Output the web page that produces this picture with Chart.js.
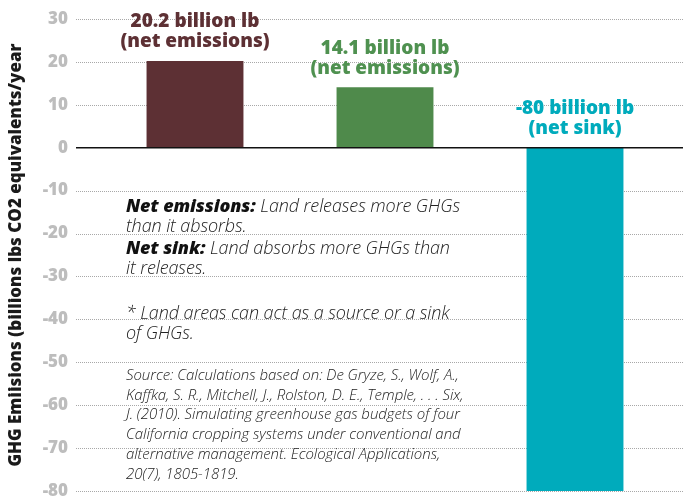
<!DOCTYPE html>
<html>
<head>
<meta charset="utf-8">
<script src="https://cdn.jsdelivr.net/npm/chart.js@4"></script>
<style>
  html, body { margin: 0; padding: 0; background: #fff; overflow: hidden; }
  #wrap { position: relative; width: 683px; height: 496px; }
  canvas { position: absolute; left: 0; top: 0; }
  .note { position: absolute; left: 126px; font-family: "Open Sans", sans-serif; font-style: italic; font-weight: 300; color: #222; white-space: nowrap; }
  .note b { font-weight: 800; color: #111; }
  .big { font-size: 18px; line-height: 20px; letter-spacing: -0.1px; }
  .src { font-size: 15px; line-height: 19.7px; letter-spacing: -0.05px; }
</style>
</head>
<body>
<div id="wrap">
  <canvas id="c" width="683" height="496"></canvas>
  <div class="note big" style="top:195px"><b>Net emissions:</b> Land releases more GHGs<br>than it absorbs.</div>
  <div class="note big" style="top:237px"><b>Net sink:</b> Land absorbs more GHGs than<br>it releases.</div>
  <div class="note big" style="top:302px">* Land areas can act as a source or a sink<br>of GHGs.</div>
  <div class="note src" style="top:365px">Source: Calculations based on: De Gryze, S., Wolf, A.,<br>Kaffka, S. R., Mitchell, J., Rolston, D. E., Temple, . . . Six,<br>J. (2010). Simulating greenhouse gas budgets of four<br>California cropping systems under conventional and<br>alternative management. Ecological Applications,<br>20(7), 1805-1819.</div>
</div>
<script>
const categories = ['Conventional', 'Alternative', 'Sink'];
const values = [20.2, 14.1, -80];
const labelLine1 = ['20.2 billion lb', '14.1 billion lb', '-80 billion lb'];
const labelLine2 = ['(net emissions)', '(net emissions)', '(net sink)'];
const barColors = ['#5d3034', '#4f8a4b', '#00abbc'];
const labelColors = ['#5d3034', '#4f9150', '#00abbc'];
const yTitle = 'GHG Emiisions (billions lbs CO2 equivalents/year';

const gridPlugin = {
  id: 'gridPlugin',
  beforeDatasetsDraw(chart) {
    const ctx = chart.ctx, y = chart.scales.y;
    ctx.save();
    y.ticks.forEach(t => {
      if (t.value === 0) return;
      const py = Math.round(y.getPixelForValue(t.value)) + 0.5;
      ctx.beginPath();
      ctx.setLineDash([1, 1]);
      ctx.strokeStyle = '#a8a8a8';
      ctx.lineWidth = 1;
      ctx.moveTo(76, py);
      ctx.lineTo(chart.width, py);
      ctx.stroke();
    });
    ctx.restore();
  },
  afterDatasetsDraw(chart) {
    const ctx = chart.ctx, y = chart.scales.y;
    ctx.save();
    const p0 = y.getPixelForValue(0);
    ctx.setLineDash([]);
    ctx.strokeStyle = '#111';
    ctx.lineWidth = 1.6;
    ctx.beginPath();
    ctx.moveTo(76, p0);
    ctx.lineTo(chart.width, p0);
    ctx.stroke();
    const meta = chart.getDatasetMeta(0);
    ctx.textAlign = 'center';
    ctx.textBaseline = 'middle';
    ctx.font = '800 19px "Open Sans", sans-serif';
    meta.data.forEach((el, i) => {
      const top = Math.min(el.y, el.base);
      ctx.fillStyle = labelColors[i];
      ctx.fillText(labelLine1[i], el.x, top - 39);
      ctx.fillText(labelLine2[i], el.x, top - 19);
    });
    ctx.restore();
  }
};

new Chart(document.getElementById('c'), {
  type: 'bar',
  data: {
    labels: categories,
    datasets: [{ data: values, backgroundColor: barColors, borderWidth: 0, barPercentage: 0.51, categoryPercentage: 1 }]
  },
  options: {
    responsive: false,
    animation: false,
    events: [],
    layout: { padding: { top: 19, right: 13, bottom: 5, left: 0 } },
    plugins: { legend: { display: false }, tooltip: { enabled: false } },
    scales: {
      x: { display: false },
      y: {
        min: -80, max: 30,
        afterFit(scale) { scale.width = 100; scale.paddingTop = 0; scale.paddingBottom = 0; },
        grid: { display: false, drawTicks: false },
        border: { display: false },
        ticks: { stepSize: 10, padding: 32, color: '#bdbdbd', font: { family: '"Open Sans", sans-serif', weight: '800', size: 17 } },
        title: { display: true, text: yTitle, color: '#1a1a1a', padding: { top: 6, bottom: 0 }, font: { family: '"Open Sans", sans-serif', weight: '800', size: 17 } }
      }
    }
  },
  plugins: [gridPlugin]
});
</script>
</body>
</html>
